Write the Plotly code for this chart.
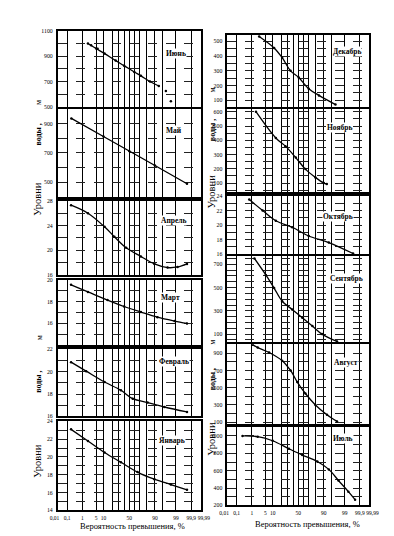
import plotly.graph_objects as go
from statistics import NormalDist

W, H = 394, 536
_nd = NormalDist()


def z(p):
    return _nd.inv_cdf(p / 100.0)


# ---------------- data (probability of exceedance %, water level) -------------
grid_probs = [0.1, 1, 5, 10, 20, 30, 40, 50, 60, 70, 80, 90, 95, 99, 99.9]
label_probs = [0.01, 0.1, 1, 5, 10, 50, 90, 99, 99.9, 99.99]
label_texts = ["0,01", "0,1", "1", "5", "10", "50", "90", "99", "99,9", "99,99"]

jun_p = [2, 5, 11, 25, 40, 60, 72, 85, 93]
jun_v = [1000, 960, 920, 865, 825, 775, 745, 700, 665]
jun_dp = [2.9, 5.8, 96.6, 98.1]
jun_dv = [985, 958, 625, 545]

may_p = [0.2, 10, 50, 90, 99.8]
may_v = [935, 812, 713, 614, 490]

apr_p = [0.19, 2, 11, 23, 44, 72, 89.5, 97.2, 99.2, 99.8]
apr_v = [27.3, 26.0, 23.8, 22.2, 20.4, 19.0, 17.8, 17.2, 17.3, 17.8]

mar_p = [0.19, 2, 14, 40, 72, 92, 98.8, 99.8]
mar_v = [19.55, 18.9, 18.15, 17.56, 17.05, 16.58, 16.22, 16.0]

feb_p = [0.19, 1.6, 11, 34, 57, 82, 96, 99.8]
feb_v = [20.84, 20.04, 19.07, 18.33, 17.58, 17.23, 16.84, 16.4]

jan_p = [0.19, 2, 11, 34, 66, 89.5, 98.1, 99.8]
jan_v = [23.1, 21.8, 20.5, 19.4, 18.3, 17.5, 16.9, 16.3]

dec_p = [2.5, 11.3, 21, 35, 51, 70, 85, 96.9]
dec_v = [533, 455, 389, 300, 255, 178, 133, 71]

nov_p = [1.7, 13, 26, 45, 64, 80.5, 90, 92.4]
nov_v = [600, 416, 359, 279, 198, 140, 100, 93]

oct_p = [0.7, 3.7, 13, 38, 70, 93.7, 99.7]
oct_v = [23.5, 22.0, 20.6, 19.7, 18.5, 17.6, 16.1]

sep_p = [1.4, 5.2, 11.3, 21, 38, 58, 76, 88.3, 97.4]
sep_v = [751, 609, 496, 383, 312, 241, 170, 100, 37]

aug_p = [1.1, 2.1, 7.2, 21, 35, 48, 64, 80.5, 92.5, 97.4]
aug_v = [1000, 966, 909, 814, 700, 566, 433, 300, 186, 109]

jul_p = [0.26, 2.1, 9.9, 32, 58, 83, 93.7, 97.8, 99.4, 99.78]
jul_v = [1000, 992, 945, 853, 780, 706, 615, 487, 358, 266]

# y-axis ticks: (grid values, labelled values, range)
jun_grid, jun_lab, jun_rng = list(range(500, 1101, 100)), [500, 700, 900, 1100], [500, 1100]
may_grid, may_lab, may_rng = list(range(400, 1001, 100)), [500, 700, 900], [400, 1000]
apr_grid, apr_lab, apr_rng = list(range(16, 29, 2)), [16, 20, 24, 28], [16, 28]
mar_grid, mar_lab, mar_rng = list(range(14, 21, 1)), [16, 18, 20], [14, 20]
feb_grid, feb_lab, feb_rng = list(range(16, 23, 1)), [16, 18, 20, 22], [16, 22]
jan_grid, jan_lab, jan_rng = list(range(14, 25, 1)), [14, 16, 18, 20, 22, 24], [14, 24]
dec_grid, dec_lab, dec_rng = list(range(100, 541, 50)), [100, 200, 300, 400, 500], [55, 545]
nov_grid, nov_lab, nov_rng = list(range(50, 601, 50)), [100, 200, 300, 400, 500, 600], [38, 620]
oct_grid, oct_lab, oct_rng = list(range(16, 25, 1)), [16, 18, 20, 22, 24], [16, 24]
sep_grid, sep_lab, sep_rng = list(range(50, 751, 50)), [100, 300, 500, 700], [30, 770]
aug_grid, aug_lab, aug_rng = list(range(100, 1001, 100)), [100, 300, 500, 700, 900], [75, 1005]
jul_grid, jul_lab, jul_rng = list(range(200, 1101, 100)), [200, 400, 600, 800, 1000], [200, 1100]

# ---------------- layout of panels (pixel boxes) ----------------
LEFT_X = (50, 193)
RIGHT_X = (220, 362)
ZR = [-3.55, 3.55]

panels = [
    ("Июнь", LEFT_X, (20, 97), jun_p, jun_v, jun_grid, jun_lab, jun_rng, (168, 43), (jun_dp, jun_dv)),
    ("Май", LEFT_X, (99, 188), may_p, may_v, may_grid, may_lab, may_rng, (166, 121), None),
    ("Апрель", LEFT_X, (192, 267), apr_p, apr_v, apr_grid, apr_lab, apr_rng, (166, 212), None),
    ("Март", LEFT_X, (272, 338), mar_p, mar_v, mar_grid, mar_lab, mar_rng, (163, 290), None),
    ("Февраль", LEFT_X, (342, 410), feb_p, feb_v, feb_grid, feb_lab, feb_rng, (166, 354), None),
    ("Январь", LEFT_X, (415, 505), jan_p, jan_v, jan_grid, jan_lab, jan_rng, (164, 434), None),
    ("Декабрь", RIGHT_X, (24, 97), dec_p, dec_v, dec_grid, dec_lab, dec_rng, (340, 41), None),
    ("Ноябрь", RIGHT_X, (99, 183), nov_p, nov_v, nov_grid, nov_lab, nov_rng, (332, 118), None),
    ("Октябрь", RIGHT_X, (187, 246), oct_p, oct_v, oct_grid, oct_lab, oct_rng, (331, 208), None),
    ("Сентябрь", RIGHT_X, (248, 335), sep_p, sep_v, sep_grid, sep_lab, sep_rng, (339, 271), None),
    ("Август", RIGHT_X, (337, 418), aug_p, aug_v, aug_grid, aug_lab, aug_rng, (339, 355), None),
    ("Июль", RIGHT_X, (421, 500), jul_p, jul_v, jul_grid, jul_lab, jul_rng, (336, 432), None),
]

SERIF = "Liberation Serif, DejaVu Serif, serif"
fig = go.Figure()
layout = dict(
    width=W, height=H, margin=dict(l=0, r=0, t=0, b=0),
    paper_bgcolor="white", plot_bgcolor="white", showlegend=False,
    font=dict(family=SERIF, color="black", size=6),
)
annotations = []

xgrid = [z(p) for p in grid_probs]

for i, (name, (x0, x1), (y0, y1), P, V, ygrid, ylab, yrng, lpos, dots) in enumerate(panels):
    k = "" if i == 0 else str(i + 1)
    xa, ya = "xaxis" + k, "yaxis" + k
    layout[xa] = dict(
        domain=[x0 / W, x1 / W], anchor="y" + k, range=ZR,
        tickvals=xgrid, ticktext=[""] * len(xgrid), ticks="",
        showgrid=True, gridcolor="#000", gridwidth=1.4,
        showline=True, mirror=True, linecolor="black", linewidth=2,
        zeroline=False, fixedrange=True,
    )
    layout[ya] = dict(
        domain=[1 - y1 / H, 1 - y0 / H], anchor="x" + k, range=yrng,
        tickvals=ygrid, ticktext=[str(v) if v in ylab else "" for v in ygrid],
        ticks="", ticklabelstandoff=2,
        tickfont=dict(family=SERIF, size=5.8, color="black"),
        showgrid=True, gridcolor="#222", gridwidth=0.9, griddash="dash",
        showline=True, mirror=True, linecolor="black", linewidth=2,
        zeroline=False, fixedrange=True,
    )
    fig.add_trace(go.Scatter(
        x=[z(p) for p in P], y=V, xaxis="x" + k, yaxis="y" + k,
        mode="lines+markers", line=dict(color="black", width=1.3, shape="spline"),
        marker=dict(size=2.5, color="black"), cliponaxis=True,
    ))
    if dots is not None:
        fig.add_trace(go.Scatter(
            x=[z(p) for p in dots[0]], y=dots[1], xaxis="x" + k, yaxis="y" + k,
            mode="markers", marker=dict(size=2.5, color="black"),
        ))
    annotations.append(dict(
        text="<b>" + name + "</b>", x=lpos[0] / W, y=1 - lpos[1] / H,
        xref="paper", yref="paper", showarrow=False,
        xanchor="center", yanchor="middle", bgcolor="white", borderpad=0,
        font=dict(family=SERIF, size=7.5, color="black"),
    ))

# probability scale label axes under each column (same px-per-z scale, slightly wider
# so the 0,01 and 99,99 labels beyond the panel frame can be shown)
PAD = 9
for n, ((x0, x1), ypos) in enumerate(((LEFT_X, 508), (RIGHT_X, 503))):
    k = str(13 + n)
    s = (x1 - x0) / (ZR[1] - ZR[0])
    layout["xaxis" + k] = dict(
        domain=[(x0 - PAD) / W, (x1 + PAD) / W],
        range=[ZR[0] - PAD / s, ZR[1] + PAD / s],
        anchor="free", position=1 - ypos / H, side="bottom",
        tickvals=[z(p) for p in label_probs], ticktext=label_texts,
        ticks="", tickangle=0, showgrid=False, showline=False, zeroline=False,
        tickfont=dict(family=SERIF, size=5.5, color="black"), fixedrange=True,
    )
    layout["yaxis" + k] = dict(
        domain=[1 - ypos / H, 1 - (ypos - 3) / H], anchor="x" + k, range=[0, 1],
        visible=False, fixedrange=True,
    )
    fig.add_trace(go.Scatter(x=[0], y=[-5], xaxis="x" + k, yaxis="y" + k,
                             mode="markers", marker=dict(size=1, opacity=0),
                             hoverinfo="skip"))

for cx, cy in ((125, 521), (300, 519)):
    annotations.append(dict(
        text="Вероятность превышения, %", x=cx / W, y=1 - cy / H,
        xref="paper", yref="paper", showarrow=False,
        xanchor="center", yanchor="middle",
        font=dict(family=SERIF, size=8.5, color="black"),
    ))

# rotated y titles
ytitles = [
    (31, 92, "м", 8), (31, 125, "<b>воды ,</b>", 8), (30, 190, "Уровни", 10.5),
    (31, 330, "м", 8), (31, 375, "<b>воды ,</b>", 8), (30, 455, "Уровни", 10.5),
    (205, 80, "м", 8), (205, 120, "<b>воды ,</b>", 8), (204, 182, "Уровни", 10.5),
    (205, 335, "м", 8), (205, 372, "<b>воды ,</b>", 8), (204, 432, "Уровни", 10.5),
]
for tx, ty, t, s in ytitles:
    annotations.append(dict(
        text=t, x=tx / W, y=1 - ty / H, xref="paper", yref="paper",
        showarrow=False, textangle=-90, xanchor="center", yanchor="middle",
        font=dict(family=SERIF, size=s, color="black"),
    ))

layout["annotations"] = annotations
fig.update_layout(**layout)
fig.write_html("out.html")
